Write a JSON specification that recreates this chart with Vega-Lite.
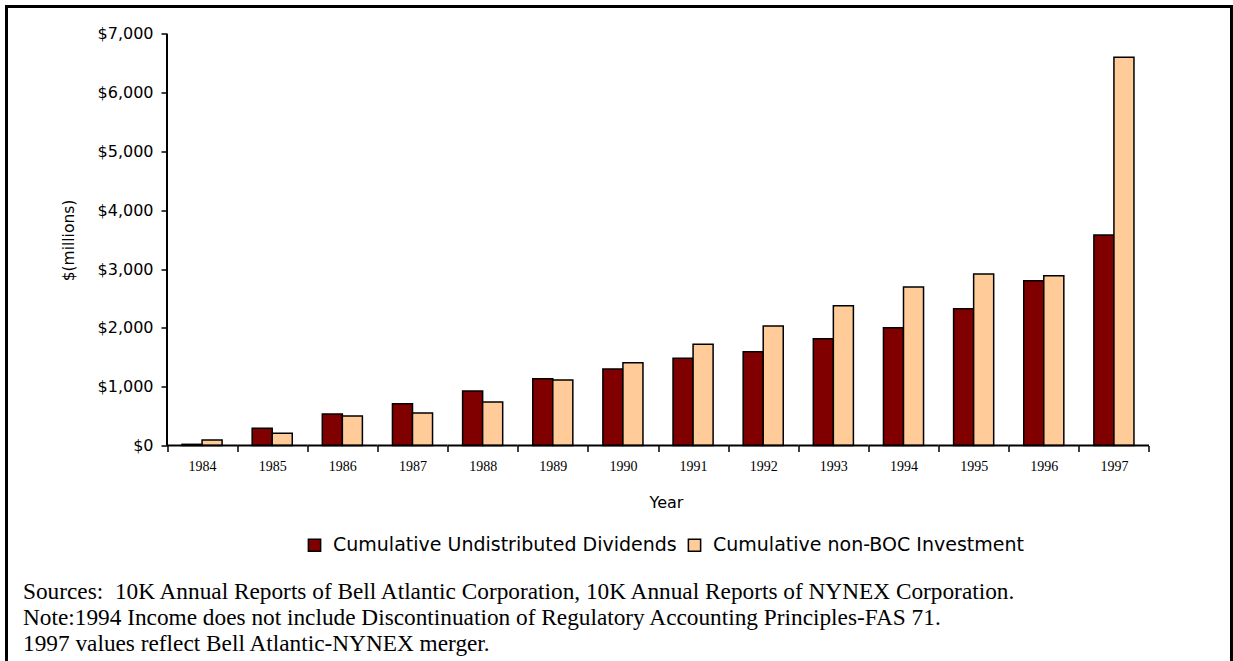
{
  "$schema": "https://vega.github.io/schema/vega-lite/v6.json",
  "autosize": {"type": "none"},
  "width": 1225,
  "height": 657,
  "padding": {"left": 6.5, "top": 6.5, "right": 1.5, "bottom": 0},
  "background": "white",
  "config": {"view": {"stroke": "black", "strokeWidth": 3}},
  "title": {
    "text": ["Sources: \u00a010K Annual Reports of Bell Atlantic Corporation, 10K Annual Reports of NYNEX Corporation.", "Note:1994 Income does not include Discontinuation of Regulatory Accounting Principles-FAS 71.", "1997 values reflect Bell Atlantic-NYNEX merger."],
    "orient": "bottom",
    "anchor": "start",
    "frame": "group",
    "offset": -83,
    "dx": 16.5,
    "font": "Liberation Serif",
    "fontSize": 23.3,
    "fontWeight": "normal",
    "color": "black",
    "lineHeight": 26
  },
  "datasets": {
    "bars": [
      {"Year": "1984", "Series": "Cumulative Undistributed Dividends", "Value": 20},
      {"Year": "1984", "Series": "Cumulative non-BOC Investment", "Value": 94},
      {"Year": "1985", "Series": "Cumulative Undistributed Dividends", "Value": 293},
      {"Year": "1985", "Series": "Cumulative non-BOC Investment", "Value": 208},
      {"Year": "1986", "Series": "Cumulative Undistributed Dividends", "Value": 536},
      {"Year": "1986", "Series": "Cumulative non-BOC Investment", "Value": 502},
      {"Year": "1987", "Series": "Cumulative Undistributed Dividends", "Value": 711},
      {"Year": "1987", "Series": "Cumulative non-BOC Investment", "Value": 553},
      {"Year": "1988", "Series": "Cumulative Undistributed Dividends", "Value": 927},
      {"Year": "1988", "Series": "Cumulative non-BOC Investment", "Value": 740},
      {"Year": "1989", "Series": "Cumulative Undistributed Dividends", "Value": 1136},
      {"Year": "1989", "Series": "Cumulative non-BOC Investment", "Value": 1114},
      {"Year": "1990", "Series": "Cumulative Undistributed Dividends", "Value": 1301},
      {"Year": "1990", "Series": "Cumulative non-BOC Investment", "Value": 1409},
      {"Year": "1991", "Series": "Cumulative Undistributed Dividends", "Value": 1483},
      {"Year": "1991", "Series": "Cumulative non-BOC Investment", "Value": 1721},
      {"Year": "1992", "Series": "Cumulative Undistributed Dividends", "Value": 1596},
      {"Year": "1992", "Series": "Cumulative non-BOC Investment", "Value": 2033},
      {"Year": "1993", "Series": "Cumulative Undistributed Dividends", "Value": 1817},
      {"Year": "1993", "Series": "Cumulative non-BOC Investment", "Value": 2378},
      {"Year": "1994", "Series": "Cumulative Undistributed Dividends", "Value": 2004},
      {"Year": "1994", "Series": "Cumulative non-BOC Investment", "Value": 2696},
      {"Year": "1995", "Series": "Cumulative Undistributed Dividends", "Value": 2327},
      {"Year": "1995", "Series": "Cumulative non-BOC Investment", "Value": 2917},
      {"Year": "1996", "Series": "Cumulative Undistributed Dividends", "Value": 2803},
      {"Year": "1996", "Series": "Cumulative non-BOC Investment", "Value": 2888},
      {"Year": "1997", "Series": "Cumulative Undistributed Dividends", "Value": 3581},
      {"Year": "1997", "Series": "Cumulative non-BOC Investment", "Value": 6604}
    ],
    "yline": [{"Year": "1984", "Value": 0, "Value2": 7000}],
    "years": [
      {"Year": "1984"}, {"Year": "1985"}, {"Year": "1986"}, {"Year": "1987"}, {"Year": "1988"},
      {"Year": "1989"}, {"Year": "1990"}, {"Year": "1991"}, {"Year": "1992"}, {"Year": "1993"},
      {"Year": "1994"}, {"Year": "1995"}, {"Year": "1996"}, {"Year": "1997"}
    ]
  },
  "layer": [
    {
      "data": {"name": "bars"},
      "mark": {"type": "bar", "stroke": "black", "strokeWidth": 1.5},
      "encoding": {
        "x": {
          "field": "Year", "type": "nominal",
          "scale": {"type": "band", "paddingInner": 0, "paddingOuter": 0, "range": [160.5, 1142.5]},
          "axis": {
            "orient": "bottom", "offset": -218, "domain": false, "tickBand": "extent",
            "tickColor": "black", "tickWidth": 1.5, "tickSize": 6,
            "labelFont": "Liberation Serif", "labelFontSize": 14, "labelColor": "black", "labelAngle": 0, "labelPadding": 8,
            "title": "Year", "titleFont": "DejaVu Sans", "titleFontSize": 16, "titleFontWeight": "normal", "titleColor": "black",
            "titleX": 659.5, "titleY": 57, "titleBaseline": "middle", "titleAlign": "center"
          }
        },
        "xOffset": {
          "field": "Series", "type": "nominal",
          "sort": ["Cumulative Undistributed Dividends", "Cumulative non-BOC Investment"],
          "scale": {"paddingInner": 0, "paddingOuter": 0.75}
        },
        "y": {
          "field": "Value", "type": "quantitative",
          "scale": {"domain": [-3708.4, 7467.8], "nice": false},
          "axis": {
            "orient": "left", "offset": -160.5, "values": [0, 1000, 2000, 3000, 4000, 5000, 6000, 7000], "format": "$,.0f",
            "domain": false, "grid": false, "tickColor": "black", "tickWidth": 1.5, "tickSize": 6,
            "labelFont": "DejaVu Sans", "labelFontSize": 16, "labelColor": "black", "labelPadding": 8,
            "title": "$(millions)", "titleFont": "DejaVu Sans", "titleFontSize": 15.5, "titleFontWeight": "normal", "titleColor": "black",
            "titleX": -99, "titleY": 233.5, "titleBaseline": "middle", "titleAlign": "center", "titleAngle": -90
          }
        },
        "color": {
          "field": "Series", "type": "nominal",
          "scale": {"domain": ["Cumulative Undistributed Dividends", "Cumulative non-BOC Investment"], "range": ["#800000", "#FFCC99"]},
          "legend": {
            "orient": "none", "legendX": 298.5, "legendY": 529, "direction": "horizontal", "title": null,
            "labelFont": "DejaVu Sans", "labelFontSize": 19, "labelColor": "black",
            "symbolType": "square", "symbolSize": 150, "symbolStrokeColor": "black", "symbolStrokeWidth": 1.5, "symbolOpacity": 1,
            "labelOffset": 9, "columnPadding": 8, "labelLimit": 400
          }
        }
      }
    },
    {
      "data": {"name": "yline"},
      "mark": {"type": "rule", "color": "black", "strokeWidth": 2},
      "encoding": {
        "x": {"field": "Year", "type": "nominal", "bandPosition": 0},
        "y": {"field": "Value", "type": "quantitative"},
        "y2": {"field": "Value2"}
      }
    },
    {
      "data": {"name": "years"},
      "mark": {"type": "bar", "fill": "transparent", "stroke": "black", "strokeWidth": 2},
      "encoding": {
        "x": {"field": "Year", "type": "nominal"},
        "y": {"datum": 0, "type": "quantitative"},
        "y2": {"datum": 0}
      }
    }
  ]
}
